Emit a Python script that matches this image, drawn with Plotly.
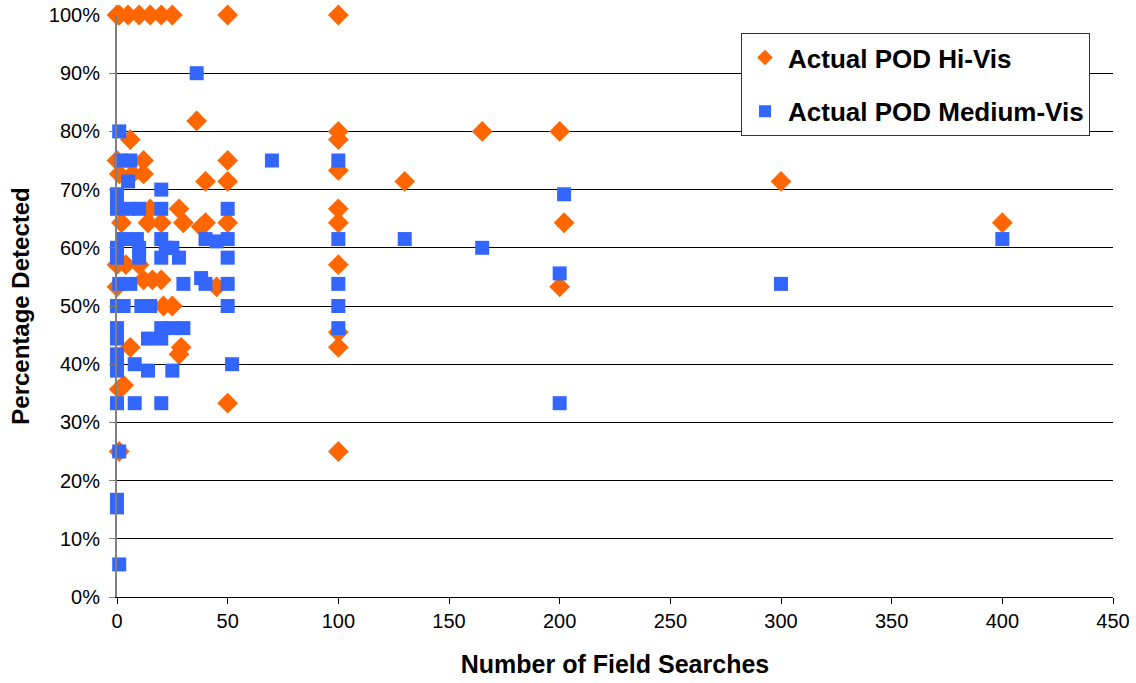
import plotly.graph_objects as go

# Actual POD Hi-Vis (orange diamonds)
hi_x = [0, 1, 5, 10, 15, 20, 25, 50, 100,
        36, 100, 165, 200, 6, 100,
        0, 12, 50, 1, 7, 12, 100,
        40, 50, 130, 300,
        15, 28, 100,
        2, 14, 20, 30, 40, 50, 100, 202, 400, 38,
        0, 4, 10, 100,
        12, 16, 20, 45, 200, 0,
        21, 25,
        6, 29, 28, 100, 100,
        1, 3, 50, 1, 100]
hi_y = [1.0, 1.0, 1.0, 1.0, 1.0, 1.0, 1.0, 1.0, 1.0,
        0.818, 0.80, 0.80, 0.80, 0.786, 0.786,
        0.75, 0.75, 0.75, 0.727, 0.727, 0.727, 0.733,
        0.714, 0.714, 0.714, 0.714,
        0.667, 0.667, 0.667,
        0.643, 0.643, 0.643, 0.643, 0.643, 0.643, 0.643, 0.643, 0.643, 0.636,
        0.571, 0.571, 0.571, 0.571,
        0.545, 0.545, 0.545, 0.533, 0.533, 0.533,
        0.50, 0.50,
        0.429, 0.429, 0.417, 0.429, 0.455,
        0.357, 0.364, 0.333, 0.25, 0.25]

# Actual POD Medium-Vis (blue squares)
med_x = [36, 1, 2, 6, 70, 100, 5,
         0, 20, 202, 0, 0, 5, 10, 20, 50,
         3, 9, 20, 40, 45, 50, 100, 130, 400,
         0, 10, 22, 25, 165,
         0, 10, 20, 28, 50,
         1, 6, 30, 38, 40, 50, 100, 300, 200,
         0, 3, 11, 15, 50, 100,
         0, 20, 25, 30, 100,
         0, 14, 20, 0,
         0, 8, 52, 0, 14, 25,
         0, 8, 20, 200,
         1, 0, 0, 1]
med_y = [0.90, 0.80, 0.75, 0.75, 0.75, 0.75, 0.714,
         0.692, 0.70, 0.692, 0.679, 0.667, 0.667, 0.667, 0.667, 0.667,
         0.615, 0.615, 0.615, 0.615, 0.611, 0.615, 0.615, 0.615, 0.615,
         0.60, 0.60, 0.60, 0.60, 0.60,
         0.583, 0.583, 0.583, 0.583, 0.583,
         0.538, 0.538, 0.538, 0.548, 0.538, 0.538, 0.538, 0.538, 0.556,
         0.50, 0.50, 0.50, 0.50, 0.50, 0.50,
         0.462, 0.462, 0.462, 0.462, 0.462,
         0.444, 0.444, 0.444, 0.417,
         0.40, 0.40, 0.40, 0.389, 0.389, 0.389,
         0.333, 0.333, 0.333, 0.333,
         0.25, 0.167, 0.154, 0.056]

x_ticks = [0, 50, 100, 150, 200, 250, 300, 350, 400, 450]

FONT = "Liberation Sans, Arial, sans-serif"

fig = go.Figure()
fig.add_trace(go.Scatter(
    x=hi_x, y=hi_y, mode="markers", name="Actual POD Hi-Vis",
    legendgroup="a", cliponaxis=False,
    marker=dict(symbol="diamond", size=16, color="#FF6600", line=dict(width=0))))
fig.add_trace(go.Scatter(
    x=med_x, y=med_y, mode="markers", name="Actual POD Medium-Vis",
    legendgroup="b", cliponaxis=False,
    marker=dict(symbol="square", size=14, color="#3366FF", line=dict(width=0))))

fig.update_layout(
    width=1136, height=683,
    margin=dict(l=117, r=23, t=15, b=86, autoexpand=False),
    paper_bgcolor="white", plot_bgcolor="white",
    font=dict(family=FONT, color="black", size=20),
    legend=dict(
        x=0.6265, y=0.969, xanchor="left", yanchor="top",
        bgcolor="white", bordercolor="#333333", borderwidth=1,
        font=dict(size=26, family=FONT, color="black", weight="bold"),
        tracegroupgap=17, itemsizing="constant", itemwidth=36,
        entrywidth=360, entrywidthmode="pixels",
    ),
    xaxis=dict(
        range=[0, 450], tickvals=x_ticks, ticktext=[str(v) for v in x_ticks],
        showgrid=False, zeroline=False, automargin=False,
        showline=True, linecolor="black", linewidth=1,
        ticks="outside", ticklen=6, tickcolor="black",
        ticklabeloverflow="allow",
        tickfont=dict(size=20),
        title=dict(text="<b>Number of Field Searches</b>", font=dict(size=25), standoff=24),
    ),
    yaxis=dict(
        range=[0, 1.0], dtick=0.1, tickformat=".0%",
        showgrid=True, gridcolor="black", gridwidth=1,
        zeroline=False, automargin=False,
        showline=True, linecolor="#808080", linewidth=2,
        ticks="outside", ticklen=6, tickcolor="#808080",
        ticklabelstandoff=5, ticklabeloverflow="allow",
        tickfont=dict(size=20),
        title=dict(text="<b>Percentage Detected</b>", font=dict(size=24), standoff=12),
    ),
)

fig.write_html("out.html", config={"displayModeBar": False},
               post_script="document.body.style.margin='0';")
